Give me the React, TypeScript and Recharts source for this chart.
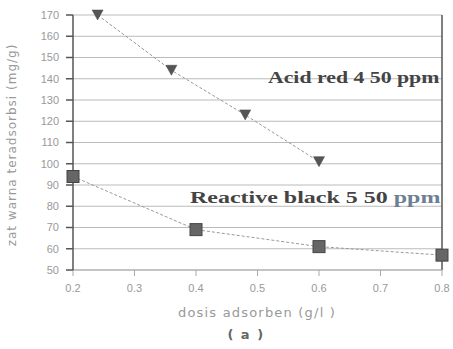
import React from "react";
import { LineChart, Line, XAxis, YAxis, CartesianGrid, ReferenceLine } from "recharts";

const xTicks = [0.2, 0.3, 0.4, 0.5, 0.6, 0.7, 0.8];
const yTicks = [50, 60, 70, 80, 90, 100, 110, 120, 130, 140, 150, 160, 170];

const acidRed = [
  { x: 0.24, y: 170 },
  { x: 0.36, y: 144 },
  { x: 0.48, y: 123 },
  { x: 0.6, y: 101 },
];

const reactiveBlack = [
  { x: 0.2, y: 94 },
  { x: 0.4, y: 69 },
  { x: 0.6, y: 61 },
  { x: 0.8, y: 57 },
];

const TriangleDot = (props: any) => {
  const { cx, cy } = props;
  if (cx == null || cy == null) return null;
  return (
    <path
      d={`M${cx - 5.5},${cy - 5} L${cx + 5.5},${cy - 5} L${cx},${cy + 5} Z`}
      fill="#555"
      stroke="#444"
      strokeWidth={0.5}
    />
  );
};

const SquareDot = (props: any) => {
  const { cx, cy } = props;
  if (cx == null || cy == null) return null;
  return <rect x={cx - 6} y={cy - 6} width={12} height={12} fill="#666" stroke="#444" strokeWidth={1} />;
};

const tickStyle = { fontSize: 11, fill: "#999", fontFamily: "Liberation Sans" };

export default function App() {
  return (
    <div style={{ position: "absolute", left: 0, top: 0, width: 453, height: 349, background: "#fff" }}>
      <LineChart width={453} height={349} margin={{ top: 15, right: 11, bottom: 49, left: 23 }}>
        <CartesianGrid vertical={false} stroke="#bbb" />
        <XAxis
          type="number"
          dataKey="x"
          domain={[0.2, 0.8]}
          ticks={xTicks}
          tickFormatter={(v: number) => v.toFixed(1)}
          tick={tickStyle}
          tickSize={6}
          tickMargin={8}
          stroke="#aaa"
          height={30}
          allowDuplicatedCategory={false}
        />
        <YAxis
          type="number"
          domain={[50, 170]}
          ticks={yTicks}
          tick={tickStyle}
          tickSize={7}
          tickMargin={7}
          stroke="#555"
          strokeWidth={1.5}
          width={50}
          interval={0}
        />
        <ReferenceLine x={0.8} stroke="#555" strokeWidth={1.5} />
        <Line
          data={acidRed}
          dataKey="y"
          type="linear"
          stroke="#999"
          strokeWidth={1}
          strokeDasharray="3 2"
          dot={<TriangleDot />}
          isAnimationActive={false}
        />
        <Line
          data={reactiveBlack}
          dataKey="y"
          type="linear"
          stroke="#999"
          strokeWidth={1}
          strokeDasharray="3 2"
          dot={<SquareDot />}
          isAnimationActive={false}
        />
      </LineChart>
      <div
        style={{
          position: "absolute",
          left: 268,
          top: 69,
          fontFamily: "Liberation Serif",
          fontWeight: "bold",
          fontSize: 16,
          color: "#444",
          whiteSpace: "nowrap",
          transform: "scaleX(1.36)",
          transformOrigin: "left center",
        }}
      >
        Acid red 4 50 ppm
      </div>
      <div
        style={{
          position: "absolute",
          left: 190,
          top: 188,
          fontFamily: "Liberation Serif",
          fontWeight: "bold",
          fontSize: 17,
          color: "#444",
          whiteSpace: "nowrap",
          transform: "scaleX(1.41)",
          transformOrigin: "left center",
        }}
      >
        Reactive black 5 50 <span style={{ color: "#6c7f93" }}>ppm</span>
      </div>
      <div
        style={{
          position: "absolute",
          left: 12,
          top: 145,
          transform: "translate(-50%, -50%) rotate(-90deg)",
          fontFamily: "DejaVu Sans",
          fontSize: 12,
          color: "#999",
          whiteSpace: "nowrap",
          letterSpacing: 1,
        }}
      >
        zat warna teradsorbsi (mg/g)
      </div>
      <div
        style={{
          position: "absolute",
          left: 257,
          top: 312,
          transform: "translate(-50%, -50%)",
          fontFamily: "DejaVu Sans",
          fontSize: 13,
          color: "#999",
          whiteSpace: "nowrap",
          letterSpacing: 1.2,
        }}
      >
        dosis adsorben (g/l )
      </div>
      <div
        style={{
          position: "absolute",
          left: 246,
          top: 334,
          transform: "translate(-50%, -50%)",
          fontFamily: "DejaVu Sans",
          fontWeight: "bold",
          fontSize: 13,
          color: "#666",
          whiteSpace: "nowrap",
          letterSpacing: 1.5,
        }}
      >
        ( a )
      </div>
    </div>
  );
}
